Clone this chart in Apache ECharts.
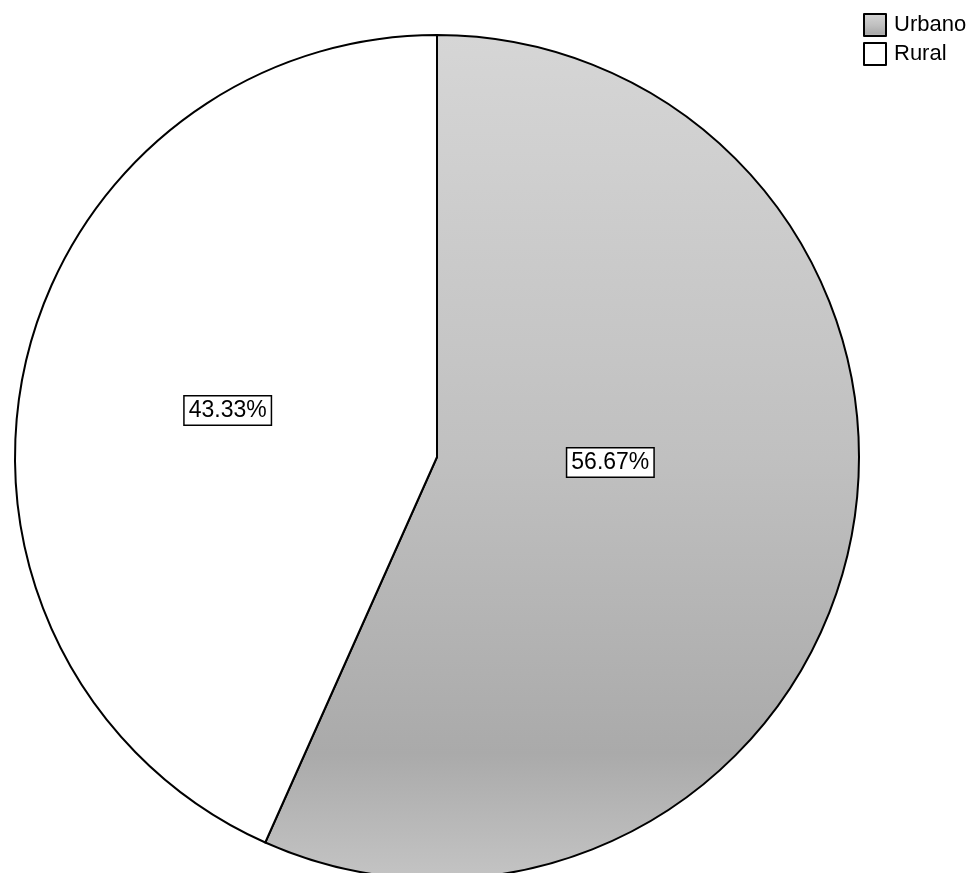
<!DOCTYPE html>
<html>
<head>
<meta charset="utf-8">
<script src="https://cdn.jsdelivr.net/npm/echarts@6/dist/echarts.min.js"></script>
<style>
html,body{margin:0;padding:0;background:#fff;}
#chart{width:971px;height:873px;}
</style>
</head>
<body>
<div id="chart"></div>
<script>
const categories = ['Urbano', 'Rural'];
const values = [56.67, 43.33];
const labels = ['56.67%', '43.33%'];

const chart = echarts.init(document.getElementById('chart'));
const urbanFill = new echarts.graphic.LinearGradient(0, 0, 0, 1, [
  { offset: 0, color: '#d6d6d6' },
  { offset: 0.5, color: '#c0c0c0' },
  { offset: 0.85, color: '#aaaaaa' },
  { offset: 1, color: '#c4c4c4' }
]);
const fills = [urbanFill, '#ffffff'];
const offsets = [[-36, -39], [0, -2]];

chart.setOption({
  animation: false,
  backgroundColor: '#ffffff',
  legend: {
    orient: 'vertical',
    left: 863,
    top: 13,
    padding: 0,
    itemWidth: 22,
    itemHeight: 22,
    itemGap: 5,
    icon: 'rect',
    textStyle: { fontFamily: 'Liberation Sans, Arial, sans-serif', fontSize: 22, color: '#000', padding: [0, 0, 0, 3] },
    data: categories
  },
  series: [{
    type: 'pie',
    center: [437, 457],
    radius: 422,
    startAngle: 90,
    clockwise: true,
    silent: true,
    itemStyle: { borderColor: '#000', borderWidth: 2 },
    labelLine: { show: false },
    data: categories.map((c, i) => ({
      name: c,
      value: values[i],
      itemStyle: { color: fills[i] },
      label: {
        show: true,
        position: 'inside',
        formatter: labels[i],
        offset: offsets[i],
        fontFamily: 'Liberation Sans, Arial, sans-serif',
        fontSize: 23,
        color: '#000',
        backgroundColor: '#fff',
        borderColor: '#000',
        borderWidth: 1.5,
        padding: [3, 4, 2, 4]
      }
    }))
  }]
});
</script>
</body>
</html>
